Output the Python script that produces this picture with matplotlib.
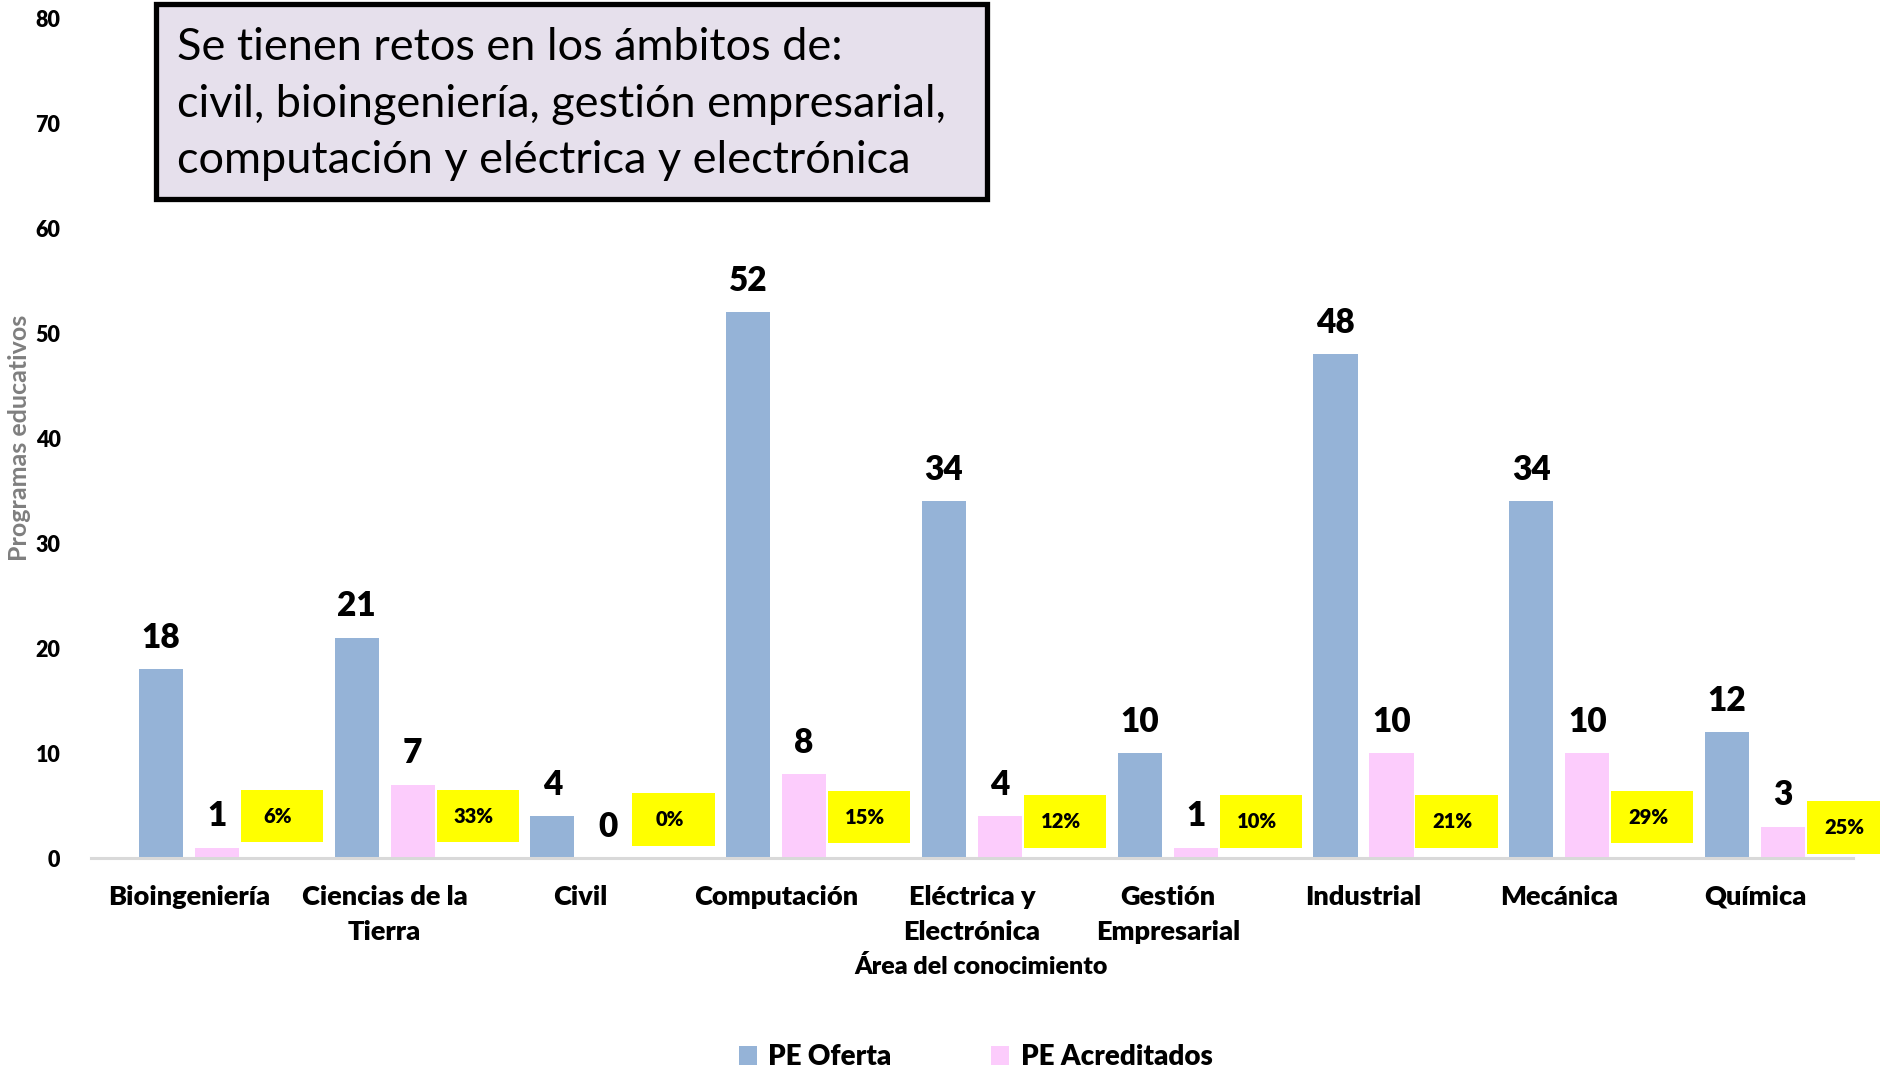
import matplotlib

matplotlib.use("Agg")
import matplotlib.pyplot as plt  # noqa: E402
from matplotlib.patches import Patch, Rectangle  # noqa: E402

plt.rcParams["font.family"] = ["Lato", "DejaVu Sans"]

categories = [
    "Bioingeniería", "Ciencias de la\nTierra", "Civil", "Computación",
    "Eléctrica y\nElectrónica", "Gestión\nEmpresarial", "Industrial",
    "Mecánica", "Química",
]
oferta = [18, 21, 4, 52, 34, 10, 48, 34, 12]
acreditados = [1, 7, 0, 8, 4, 1, 10, 10, 3]
pct_labels = ["6%", "33%", "0%", "15%", "12%", "10%", "21%", "29%", "25%"]
# vertical centre of each yellow percentage box (data units)
pct_box_y = [4.0, 4.0, 3.7, 3.9, 3.5, 3.5, 3.5, 3.9, 2.9]

BLUE = "#95B3D7"
PINK = "#FCCCFC"
YELLOW = "#FFFF00"
BOLD = "heavy"

fig = plt.figure(figsize=(18.8, 10.7), dpi=100)
ax = fig.add_axes([0.0484, 0.198, 0.9372, 0.785])

x = list(range(len(categories)))
w = 0.225
off = 0.143
ax.bar([i - off for i in x], oferta, width=w, color=BLUE, zorder=2)
ax.bar([i + off for i in x], acreditados, width=w, color=PINK, zorder=2)

for i in x:
    ax.annotate(str(oferta[i]), (i - off, oferta[i]), xytext=(0, 11),
                textcoords="offset points", ha="center", va="bottom",
                fontsize=24, fontweight=BOLD)
    ax.annotate(str(acreditados[i]), (i + off, acreditados[i]), xytext=(0, 11),
                textcoords="offset points", ha="center", va="bottom",
                fontsize=24, fontweight=BOLD)
    bx = i + 0.475
    ax.add_patch(Rectangle((bx - 0.21, pct_box_y[i] - 2.5), 0.42, 5.0,
                           facecolor=YELLOW, edgecolor="none", zorder=3,
                           clip_on=False))
    ax.text(bx - 0.02, pct_box_y[i], pct_labels[i], ha="center", va="center",
            fontsize=14.5, fontweight=BOLD, zorder=4, clip_on=False)

ax.set_xlim(-0.5, len(categories) - 0.5)
ax.set_ylim(0, 80)
ax.set_yticks(range(0, 81, 10))
ax.set_xticks(x)
ax.set_xticklabels(categories, fontsize=19.5, fontweight=BOLD, linespacing=1.55)
for lbl in ax.get_yticklabels():
    lbl.set_fontsize(15.5)
    lbl.set_fontweight(BOLD)
ax.tick_params(axis="both", length=0)
ax.tick_params(axis="y", pad=22)
ax.tick_params(axis="x", pad=19)
for s in ("top", "right", "left"):
    ax.spines[s].set_visible(False)
ax.spines["bottom"].set_color("#D9D9D9")
ax.spines["bottom"].set_linewidth(2.2)

fig.text(981 / 1880, 1 - 966 / 1070, "Área del conocimiento", ha="center",
         va="center", fontsize=18, fontweight=BOLD)
fig.text(20 / 1880, 1 - 438 / 1070, "Programas educativos", rotation=90,
         ha="center", va="center", fontsize=18, fontweight="bold",
         color="#7F7F7F")

# callout box
fig.patches.append(Rectangle((156 / 1880, 1 - 199 / 1070), 831 / 1880,
                             195 / 1070, transform=fig.transFigure,
                             facecolor="#E6E0EC", edgecolor="black",
                             linewidth=3.8, zorder=5))
fig.text(177 / 1880, 1 - 104 / 1070,
         "Se tienen retos en los ámbitos de:\n"
         "civil, bioingeniería, gestión empresarial,\n"
         "computación y eléctrica y electrónica",
         ha="left", va="center", fontsize=32.5, linespacing=1.48, zorder=6)

handles = [Patch(facecolor=BLUE, label="PE Oferta"),
           Patch(facecolor=PINK, label="PE Acreditados")]
fig.legend(handles=handles, loc="center", bbox_to_anchor=(0.519, 1 - 1057 / 1070),
           ncol=2, frameon=False, prop={"size": 20, "weight": BOLD},
           handlelength=0.65, handleheight=0.65, handletextpad=0.4,
           columnspacing=3.6)

fig.savefig("out.png", dpi=100)
